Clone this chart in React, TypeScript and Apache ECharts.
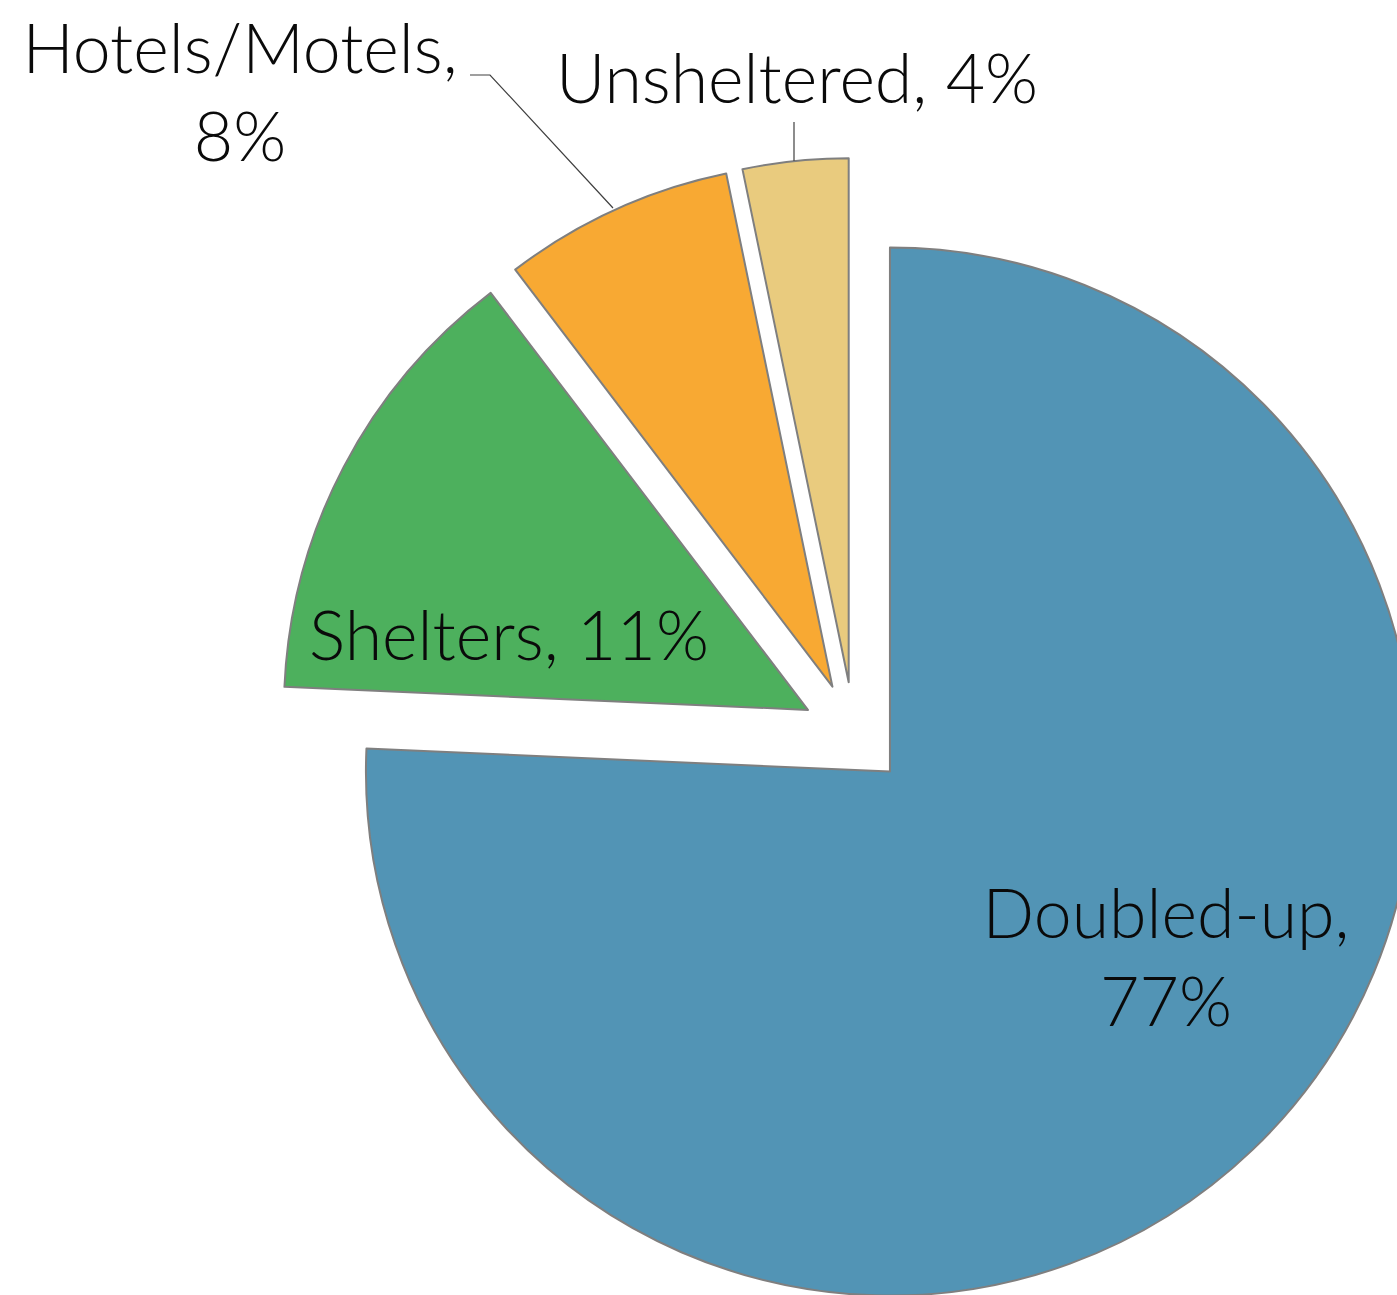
import React, { useEffect, useRef } from 'react';
import * as echarts from 'echarts';

// Categories in drawing order (clockwise from 12 o'clock)
const categories = ['Doubled-up', 'Shelters', 'Hotels/Motels', 'Unsheltered'];
// Slice sizes as drawn in the picture (share of the full circle, %)
const sliceShares = [75.7, 13.95, 7.1, 3.25];
// Percentages as printed on the data labels
const labelPercents = [77, 11, 8, 4];
// Labels that are wrapped after the comma
const wrappedLabels = ['Doubled-up', 'Hotels/Motels'];

const sliceColors = ['#5294B5', '#4DB05D', '#F8A933', '#E9CB7E'];

// label anchor points (centre of the text block)
const labelAnchors: Record<string, [number, number]> = {
  'Doubled-up': [1166, 955],
  Shelters: [509, 633],
  'Hotels/Motels': [240, 90],
  Unsheltered: [797, 76],
};
// leader lines (slice edge -> label)
const leaderLines: Record<string, number[][]> = {
  'Hotels/Motels': [[613, 208], [490, 75], [470, 75]],
  Unsheltered: [[794, 161], [794, 122]],
};

const FONT = 'Lato';

export default function App() {
  const ref = useRef<HTMLDivElement>(null);
  useEffect(() => {
    if (!ref.current) return;
    const chart = echarts.init(ref.current, undefined, { renderer: 'svg' });
    const data = categories.map((name, i) => ({
      name,
      value: sliceShares[i],
      selected: true,
      itemStyle: { color: sliceColors[i] },
      select: { itemStyle: { color: sliceColors[i], borderColor: '#7F7F7F', borderWidth: 2 } },
    }));

    const labelText = (i: number) => {
      const name = categories[i];
      const pct = labelPercents[i];
      return wrappedLabels.includes(name) ? `${name},\n${pct}%` : `${name}, ${pct}%`;
    };

    const graphics: any[] = [];
    categories.forEach((name, i) => {
      const line = leaderLines[name];
      if (line) {
        graphics.push({
          type: 'polyline',
          silent: true,
          z: 10,
          shape: { points: line },
          style: { stroke: '#404040', lineWidth: 1.2, fill: null },
        });
      }
      const a = labelAnchors[name];
      graphics.push({
        type: 'text',
        silent: true,
        z: 11,
        x: a[0],
        y: a[1],
        style: {
          text: labelText(i),
          fill: '#0A0A0A',
          fontFamily: FONT,
          fontSize: 68,
          fontWeight: 300,
          lineHeight: 88,
          align: 'center',
          verticalAlign: 'middle',
          textAlign: 'center',
          textVerticalAlign: 'middle',
        },
      });
    });

    chart.setOption({
      animation: false,
      backgroundColor: '#ffffff',
      graphic: { elements: graphics },
      series: [
        {
          type: 'pie',
          center: [854, 734],
          radius: [0, 524],
          startAngle: 90,
          clockwise: true,
          selectedMode: 'multiple',
          selectedOffset: 52,
          avoidLabelOverlap: false,
          emphasis: { disabled: true },
          itemStyle: { borderColor: '#7F7F7F', borderWidth: 2 },
          label: { show: false },
          labelLine: { show: false },
          data,
        },
      ],
    });
    return () => chart.dispose();
  }, []);
  return (
    <div
      ref={ref}
      style={{ position: 'absolute', left: 0, top: 0, width: 1397, height: 1295 }}
    />
  );
}
